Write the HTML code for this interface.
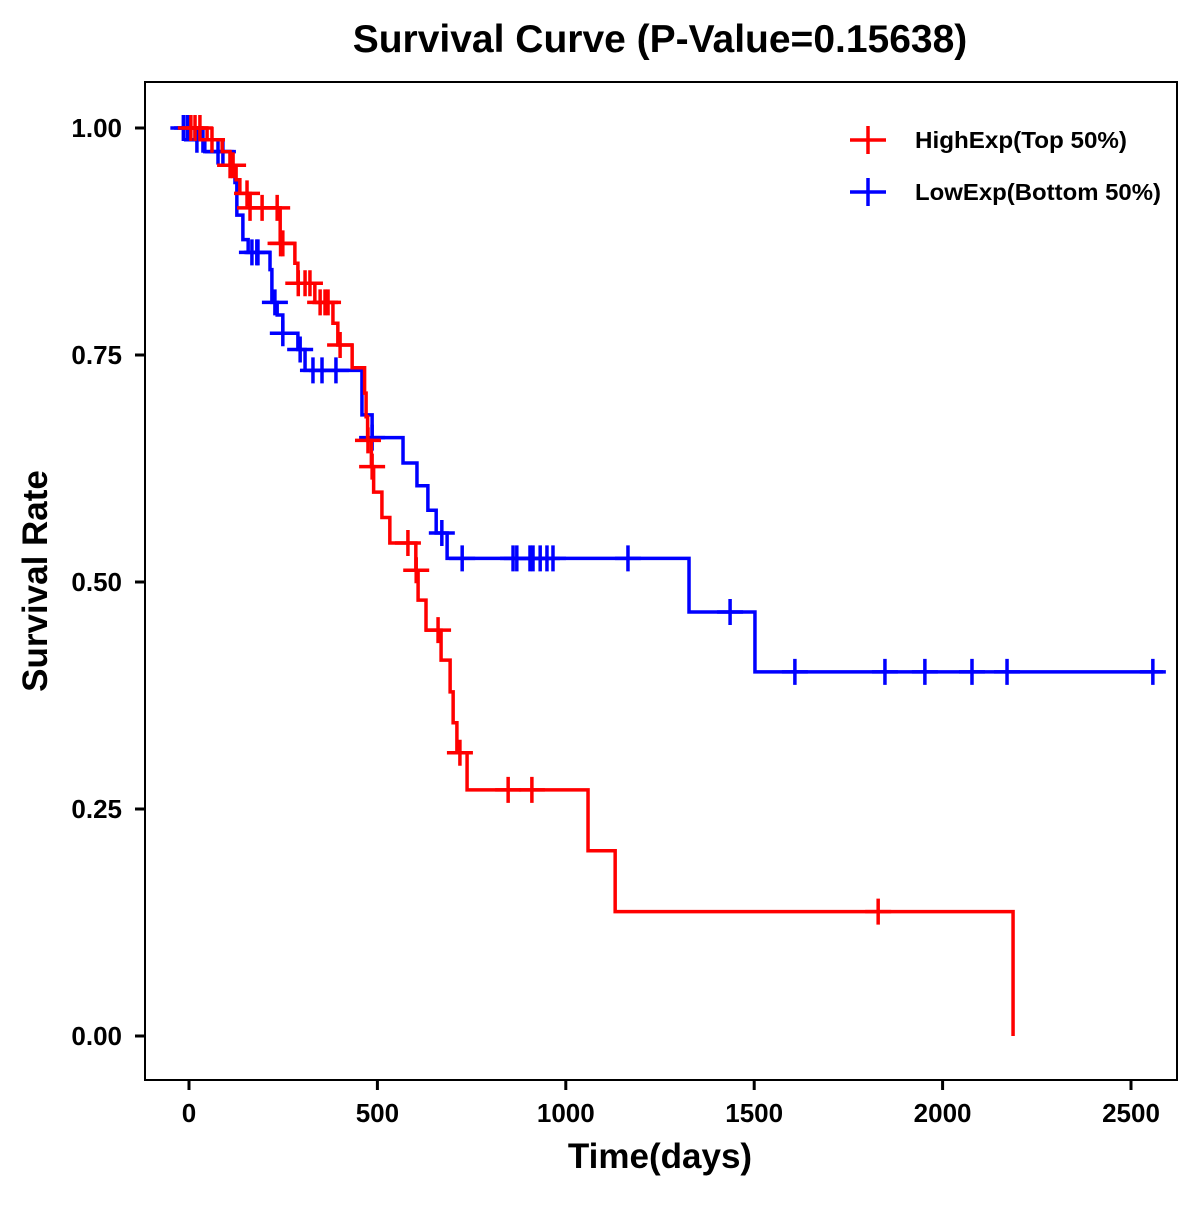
<!DOCTYPE html>
<html><head><meta charset="utf-8"><style>
html,body{margin:0;padding:0;background:#fff;}
svg text{font-family:"Liberation Sans",Arial,sans-serif;font-weight:bold;fill:#000;}
</style></head><body>
<svg id="chart" width="1200" height="1200" viewBox="0 0 1200 1200" xmlns="http://www.w3.org/2000/svg">
<rect width="1200" height="1200" fill="#fff"/>
<text x="660" y="52" font-size="39" text-anchor="middle">Survival Curve (P-Value=0.15638)</text>
<rect x="145" y="82" width="1032" height="998" fill="none" stroke="#000" stroke-width="2"/>
<g id="axes"></g>
<g id="series"></g>
<text x="660" y="1168" font-size="35" text-anchor="middle">Time(days)</text>
<text transform="translate(47,581) rotate(-90)" font-size="35" text-anchor="middle">Survival Rate</text>
<g>
<g>
<line x1="850" y1="140" x2="886" y2="140" stroke="#f00" stroke-width="3.5"/>
<line x1="868" y1="126" x2="868" y2="154" stroke="#f00" stroke-width="3.5"/>
<text x="915" y="148" font-size="23" textLength="212" lengthAdjust="spacingAndGlyphs">HighExp(Top 50%)</text></g>
<g>
<line x1="850" y1="192" x2="886" y2="192" stroke="#00f" stroke-width="3.5"/>
<line x1="868" y1="178" x2="868" y2="206" stroke="#00f" stroke-width="3.5"/>
<text x="915" y="200" font-size="23" textLength="246" lengthAdjust="spacingAndGlyphs">LowExp(Bottom 50%)</text></g>
</g>
</svg>
<script>
const xTicks = [0, 500, 1000, 1500, 2000, 2500];
const yTicks = [0, 0.25, 0.5, 0.75, 1.0];
const yTickLabels = ["0.00", "0.25", "0.50", "0.75", "1.00"];
const highTimes = [48, 88, 109, 125, 135, 162, 242, 281, 289, 334, 382, 395, 433, 466, 470, 474, 484, 490, 512, 533, 602, 608, 629, 669, 693, 701, 711, 738, 1059, 1131, 2187];
const highSurv = [0.987, 0.974, 0.959, 0.943, 0.928, 0.912, 0.873, 0.851, 0.829, 0.808, 0.785, 0.761, 0.736, 0.708, 0.682, 0.656, 0.627, 0.599, 0.571, 0.543, 0.513, 0.480, 0.447, 0.414, 0.379, 0.345, 0.312, 0.271, 0.204, 0.137, 0.0];
const highCensor = [5, 16, 29, 61, 109, 117, 154, 162, 194, 234, 243, 249, 290, 308, 321, 348, 361, 369, 401, 475, 486, 581, 603, 661, 719, 847, 910, 1829];
const highEnd = 2187;
const lowTimes = [16, 42, 114, 122, 127, 143, 157, 215, 220, 234, 249, 289, 308, 459, 486, 568, 605, 634, 656, 685, 1327, 1502];
const lowSurv = [0.987, 0.974, 0.957, 0.940, 0.904, 0.877, 0.863, 0.844, 0.808, 0.794, 0.774, 0.756, 0.733, 0.684, 0.659, 0.631, 0.606, 0.579, 0.554, 0.526, 0.467, 0.401];
const lowCensor = [-15, -5, 3, 21, 37, 77, 90, 167, 180, 183, 228, 249, 295, 329, 353, 390, 486, 671, 725, 860, 870, 905, 913, 932, 950, 966, 1165, 1436, 1608, 1847, 1953, 2078, 2171, 2558];
const lowEnd = 2585;

const X = t => 189 + t * 942 / 2500;
const Y = s => 1036 - s * 908;
const NS = "http://www.w3.org/2000/svg";
function mk(tag, attrs, parent) {
  const e = document.createElementNS(NS, tag);
  for (const k in attrs) e.setAttribute(k, attrs[k]);
  parent.appendChild(e);
  return e;
}
const axes = document.getElementById('axes');
xTicks.forEach(v => {
  const t = mk('line', {x1: X(v), x2: X(v), y1: 1081, y2: 1090, stroke: '#000', 'stroke-width': 3}, axes);
  
  
  const l = mk('text', {x: X(v), y: 1122, 'font-size': 26, 'text-anchor': 'middle'}, axes);
  l.textContent = v;
  
  
});
yTicks.forEach((v, i) => {
  const t = mk('line', {x1: 135, x2: 144, y1: Y(v), y2: Y(v), stroke: '#000', 'stroke-width': 3}, axes);
  
  
  const l = mk('text', {x: 122, y: Y(v) + 9, 'font-size': 26, 'text-anchor': 'end'}, axes);
  l.textContent = yTickLabels[i];
  
  
});
function survAt(times, surv, t) {
  let s = 1;
  for (let i = 0; i < times.length; i++) if (times[i] <= t) s = surv[i];
  return s;
}
const series = document.getElementById('series');
function draw(times, surv, censor, end, color, name) {
  const g = mk('g', {}, series);
  
  
  let d = 'M' + X(0) + ',' + Y(1);
  let prev = 1;
  times.forEach((t, i) => {
    d += ' L' + X(t) + ',' + Y(prev) + ' L' + X(t) + ',' + Y(surv[i]);
    prev = surv[i];
  });
  if (end > times[times.length - 1]) d += ' L' + X(end) + ',' + Y(prev);
  const p = mk('path', {d: d, fill: 'none', stroke: color, 'stroke-width': 3.5}, g);
  
  
  censor.forEach(t => {
    const s = survAt(times, surv, t);
    const cx = X(t), cy = Y(s);
    const c = mk('path', {d: 'M' + (cx - 13) + ',' + cy + 'H' + (cx + 13) + 'M' + cx + ',' + (cy - 13) + 'V' + (cy + 13), stroke: color, 'stroke-width': 3.5, fill: 'none'}, g);
    
    
  });
}
draw(lowTimes, lowSurv, lowCensor, lowEnd, '#00f', 'low-exp');
draw(highTimes, highSurv, highCensor, highEnd, '#f00', 'high-exp');
</script>
</body></html>
